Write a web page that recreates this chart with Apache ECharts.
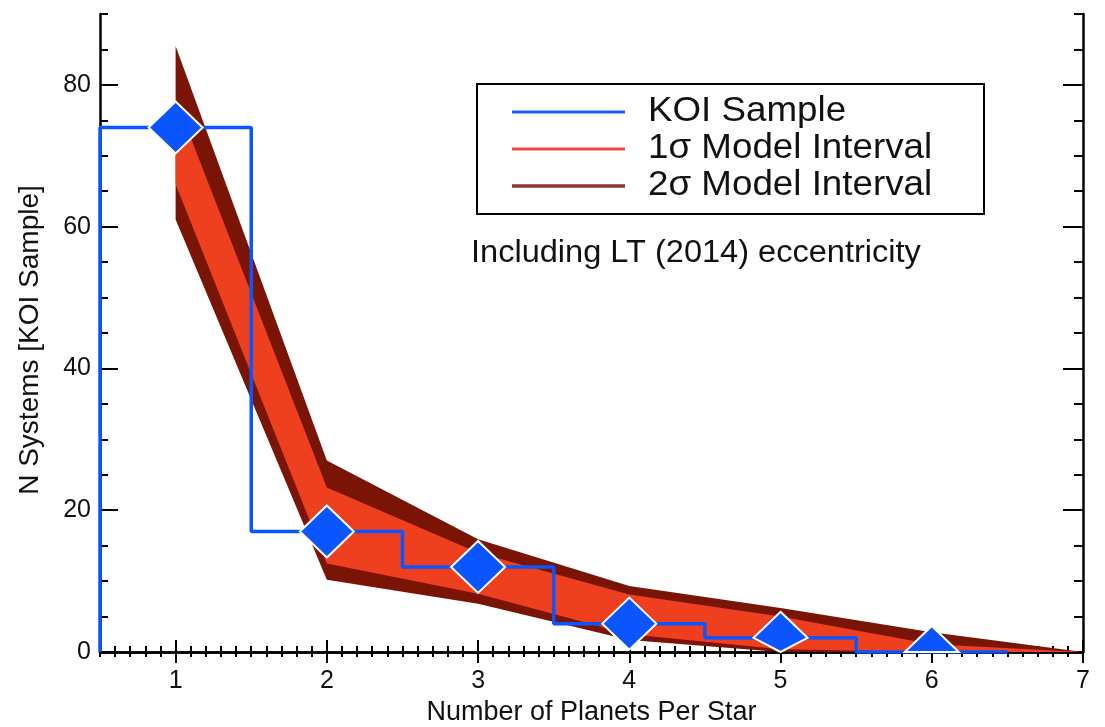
<!DOCTYPE html>
<html>
<head>
<meta charset="utf-8">
<script src="https://cdn.jsdelivr.net/npm/echarts@6/dist/echarts.min.js"></script>
<style>
html, body { margin: 0; padding: 0; background: #fff; }
#chart { width: 1105px; height: 727px; }
</style>
</head>
<body>
<div id="chart"></div>
<script>
// model grid (number of planets per star)
var nPlanets = [1, 2, 3, 4, 5, 6, 7];
var sig2Hi = [85.5, 27.0, 15.9, 9.3, 6.2, 2.8, 0];
var sig1Hi = [78.0, 23.2, 14.0, 8.1, 5.0, 1.1, 0];
var sig1Lo = [66.0, 12.5, 8.2, 2.5, 0.4, 0, 0];
var sig2Lo = [61.0, 10.2, 6.8, 1.7, 0, 0, 0];

// KOI sample
var koiBins = [1, 2, 3, 4, 5, 6];
var koiCounts = [74, 17, 12, 4, 2, 0];

var xTicks = [1, 2, 3, 4, 5, 6, 7];
var yTicks = [0, 20, 40, 60, 80];

var legendNames = ['KOI Sample', '1\u03c3 Model Interval', '2\u03c3 Model Interval'];
var note = 'Including LT (2014) eccentricity';

var FONT = '"Liberation Sans", Arial, sans-serif';
var BLUE = '#0b55ff', ORANGE = '#ee3f1f', DARK = '#7a1506';

// histogram outline
var steps = [[koiBins[0] - 0.5, 0]];
for (var i = 0; i < koiBins.length; i++) {
    steps.push([koiBins[i] - 0.5, koiCounts[i]]);
    steps.push([koiBins[i] + 0.5, koiCounts[i]]);
}

function band(name, hi, lo, color, z) {
    return {
        type: 'custom', name: name, z: z, silent: true,
        xAxisIndex: 0, yAxisIndex: 0,
        data: [[nPlanets[0], hi[0]]],
        renderItem: function (params, api) {
            var pts = [];
            for (var i = 0; i < nPlanets.length; i++) pts.push(api.coord([nPlanets[i], hi[i]]));
            for (var j = nPlanets.length - 1; j >= 0; j--) pts.push(api.coord([nPlanets[j], lo[j]]));
            return { type: 'polygon', shape: { points: pts }, style: { fill: color } };
        }
    };
}

function xAx(pos, opt) {
    return Object.assign({
        type: 'value', position: pos, min: 0.5, max: 7,
        axisLine: { show: false }, splitLine: { show: false },
        axisLabel: { show: false }, axisTick: { show: false }
    }, opt);
}
function yAx(pos, opt) {
    return Object.assign({
        type: 'value', position: pos, min: 0, max: 90,
        axisLine: { show: false }, splitLine: { show: false },
        axisLabel: { show: false }, axisTick: { show: false }
    }, opt);
}
var tickStyle = { color: '#000', width: 2 };
var lineStyle = { color: '#000', width: 2.5 };

function legendText(t, x, y, size) {
    return { type: 'text', z: 11, x: x, y: y, scaleX: 1.05,
             style: { text: t, fontSize: size, fontFamily: FONT, fill: '#111', verticalAlign: 'middle' } };
}

var chart = echarts.init(document.getElementById('chart'));
chart.setOption({
    animation: false,
    backgroundColor: '#fff',
    grid: { left: 100, top: 14, width: 983, height: 638, outerBoundsMode: 'none' },
    xAxis: [
        xAx('bottom', {
            axisLine: { show: true, lineStyle: lineStyle },
            axisTick: { show: true, inside: true, length: 12, customValues: xTicks, lineStyle: tickStyle },
            axisLabel: { show: true, customValues: xTicks, fontSize: 25, margin: 17, color: '#111', fontFamily: FONT },
            name: 'Number of Planets Per Star', nameLocation: 'middle', nameGap: 46,
            nameTextStyle: { fontSize: 27, color: '#111', fontFamily: FONT }
        }),
        xAx('bottom', { interval: 0.1, axisTick: { show: true, inside: true, length: 6, lineStyle: tickStyle } }),
        xAx('top', {
            axisLine: { show: true, lineStyle: lineStyle },
            axisTick: { show: true, inside: true, length: 11, customValues: xTicks, lineStyle: tickStyle }
        }),
        xAx('top', { interval: 0.1, axisTick: { show: true, inside: true, length: 5, lineStyle: tickStyle } })
    ],
    yAxis: [
        yAx('left', {
            axisLine: { show: true, lineStyle: lineStyle },
            axisTick: { show: true, inside: true, length: 18, customValues: yTicks, lineStyle: tickStyle },
            axisLabel: { show: true, customValues: yTicks, fontSize: 25, margin: 9, color: '#111', fontFamily: FONT },
            name: 'N Systems [KOI Sample]', nameLocation: 'middle', nameGap: 56,
            nameTextStyle: { fontSize: 28, color: '#111', fontFamily: FONT, padding: [0, 14, 0, 0] }
        }),
        yAx('left', { interval: 5, axisTick: { show: true, inside: true, length: 8, lineStyle: tickStyle } }),
        yAx('right', {
            axisLine: { show: true, lineStyle: lineStyle },
            axisTick: { show: true, inside: true, length: 20, customValues: yTicks, lineStyle: tickStyle }
        }),
        yAx('right', { interval: 5, axisTick: { show: true, inside: true, length: 9, lineStyle: tickStyle } })
    ],
    series: [
        band('2sigma', sig2Hi, sig2Lo, DARK, 2),
        band('1sigma', sig1Hi, sig1Lo, ORANGE, 3),
        {
            type: 'line', name: 'KOI Sample', z: 4, silent: true,
            xAxisIndex: 0, yAxisIndex: 0,
            data: steps, showSymbol: false, symbol: 'none',
            lineStyle: { color: BLUE, width: 3.5 }
        },
        {
            type: 'custom', name: 'KOI points', z: 5, silent: true,
            xAxisIndex: 0, yAxisIndex: 0,
            data: koiBins.map(function (b, i) { return [b, koiCounts[i]]; }),
            renderItem: function (params, api) {
                var c = api.coord([api.value(0), api.value(1)]);
                var rx = 27, ry = 26, cs = params.coordSys;
                var pts = echarts.graphic.clipPointsByRect(
                    [[c[0], c[1] - ry], [c[0] + rx, c[1]], [c[0], c[1] + ry], [c[0] - rx, c[1]]],
                    { x: cs.x, y: cs.y, width: cs.width, height: cs.height });
                return {
                    type: 'polygon', shape: { points: pts },
                    style: { fill: BLUE, stroke: '#fff', lineWidth: 2 }
                };
            }
        }
    ],
    graphic: [
        { type: 'rect', z: 10, shape: { x: 477, y: 84, width: 507, height: 130 },
          style: { fill: '#fff', stroke: '#000', lineWidth: 2 } },
        { type: 'line', z: 11, shape: { x1: 512, y1: 112, x2: 625, y2: 112 }, style: { stroke: '#1f5cf5', lineWidth: 3 } },
        { type: 'line', z: 11, shape: { x1: 512, y1: 149, x2: 625, y2: 149 }, style: { stroke: '#f04a3a', lineWidth: 3 } },
        { type: 'line', z: 11, shape: { x1: 512, y1: 186, x2: 625, y2: 186 }, style: { stroke: '#8a3a30', lineWidth: 3.5 } },
        legendText(legendNames[0], 648, 111, 35),
        legendText(legendNames[1], 648, 148, 35),
        legendText(legendNames[2], 648, 185, 35),
        legendText(note, 471, 253, 31)
    ]
});
</script>
</body>
</html>
